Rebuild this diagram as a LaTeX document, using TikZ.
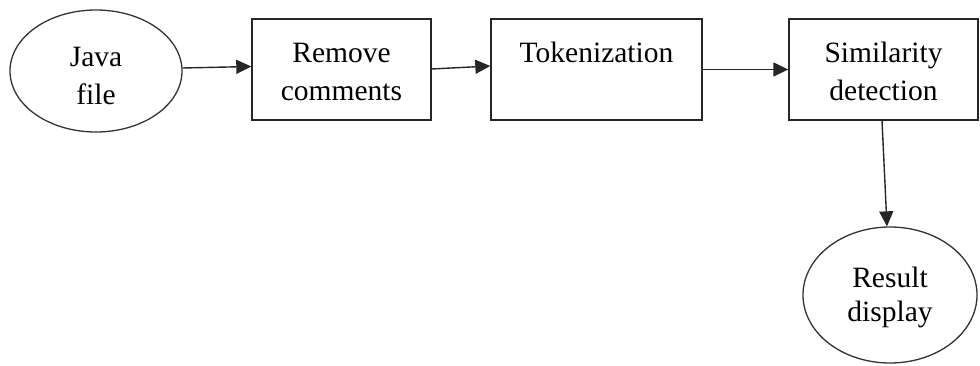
\documentclass[tikz,border=0pt]{standalone}
\usepackage{fontspec}
\setmainfont{Liberation Serif}
\usetikzlibrary{arrows.meta,shapes.geometric}
\newcommand\toprule[1]{\rule{0pt}{#1}}
\begin{document}
\begin{tikzpicture}[x=1pt,y=-1pt,
  lbl/.style={font=\fontsize{29.5}{38}\selectfont, align=center, inner sep=0pt, text=black},
  stepbox/.style={lbl, draw=black!85, line width=1.4pt, rectangle, minimum width=#1, minimum height=101pt},
  oval/.style={lbl, draw=black!80, line width=1.3pt, ellipse},
  link/.style={draw=black!85, line width=1.4pt, -{Triangle[length=15pt,width=14pt]}}]
\useasboundingbox (0,0) rectangle (980,366);
\node[oval, minimum width=172pt, minimum height=122pt] (java) at (96,71) {\toprule{30pt}Java\\file};
\node[stepbox=179pt] (rc) at (341.5,69.5) {\toprule{25pt}Remove\\comments};
\node[stepbox=211pt] (tok) at (596.5,69.5) {\toprule{25pt}Tokenization\\\mbox{}};
\node[stepbox=189pt] (sim) at (883.5,69.5) {\toprule{25pt}Similarity\\detection};
\node[oval, minimum width=174pt, minimum height=136pt, font=\fontsize{29.5}{34}\selectfont] (res) at (890,295) {\toprule{26pt}Result\\display};
\draw[link] ([yshift=3pt]java.east) -- ([yshift=3pt]rc.west);
\draw[link] ([yshift=0.5pt]rc.east) -- ([yshift=3.5pt]tok.west);
\draw[link] (tok.east) -- (sim.west);
\draw[link] ([xshift=-1.5pt]sim.south) -- ([xshift=-3pt]res.north);
\end{tikzpicture}
\end{document}
